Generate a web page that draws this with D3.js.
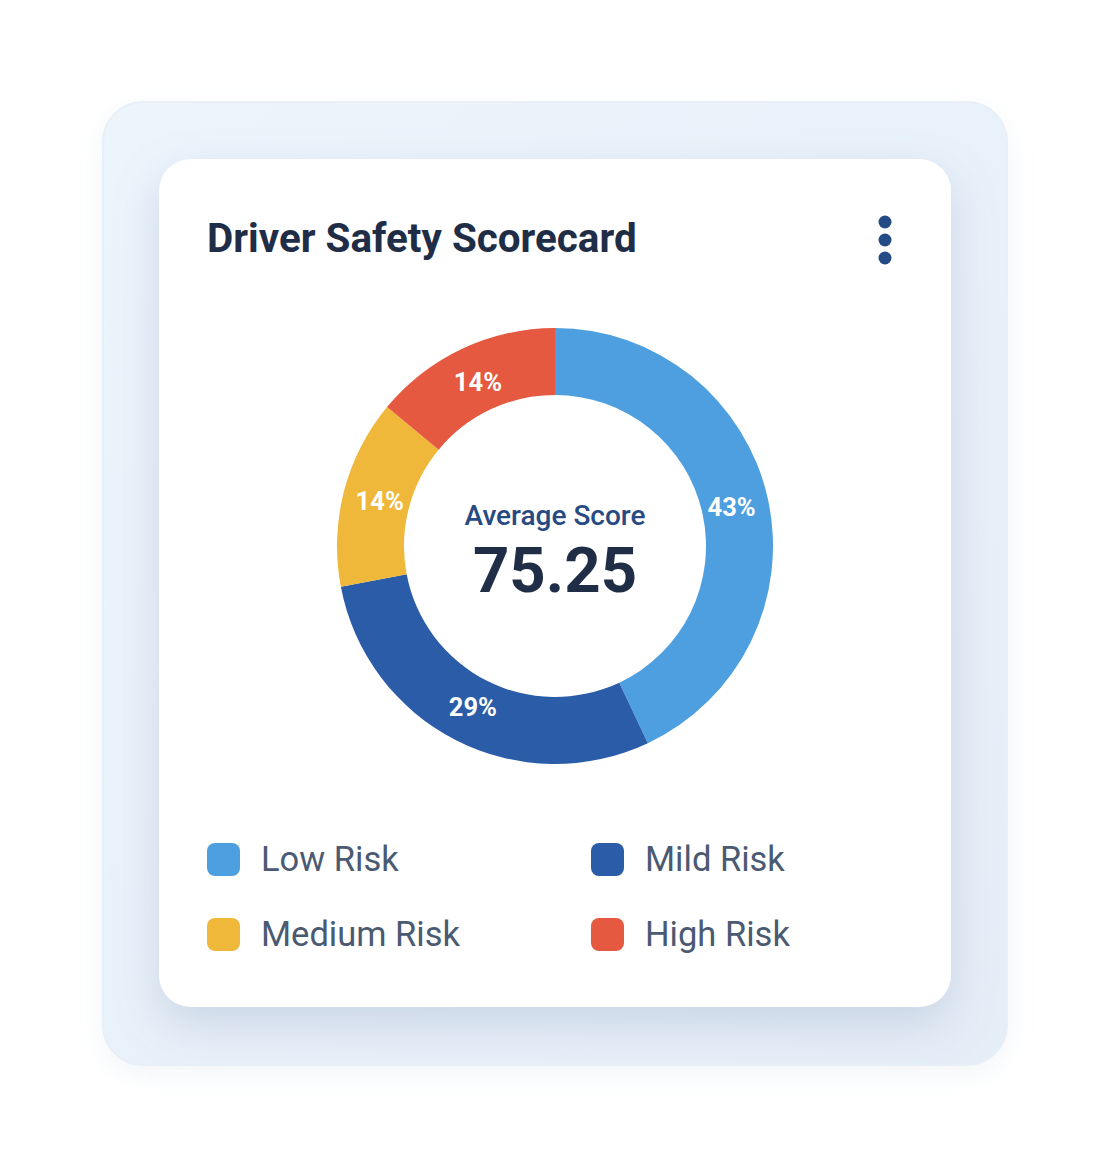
<!DOCTYPE html>
<html>
<head>
<meta charset="utf-8">
<script src="https://cdn.jsdelivr.net/npm/d3@7"></script>
<style>
  body { margin: 0; background: #fff; }
  svg { display: block; font-family: Roboto, "Noto Sans", sans-serif; }
</style>
</head>
<body>
<div class="chart"></div>
<script>
// chart data
var categories = ["Low Risk", "Mild Risk", "Medium Risk", "High Risk"];
var values = [43, 29, 14, 14];
var colors = ["#4d9fe0", "#2a5ca8", "#f0b83b", "#e45940"];
var avgLabel = "Average Score";
var avgScore = "75.25";

var svgWidth = 1110;
var svgHeight = 1167;

var svg = d3.select(".chart")
  .append("svg")
  .attr("width", svgWidth)
  .attr("height", svgHeight);

var defs = svg.append("defs");

var grad = defs.append("linearGradient")
  .attr("id", "panelGrad")
  .attr("x1", "0").attr("y1", "0")
  .attr("x2", "1").attr("y2", "1");
grad.append("stop").attr("offset", "0%").attr("stop-color", "#ecf4fc");
grad.append("stop").attr("offset", "100%").attr("stop-color", "#e5edf7");

var shadow = defs.append("filter")
  .attr("id", "cardShadow")
  .attr("x", "-20%").attr("y", "-20%")
  .attr("width", "140%").attr("height", "150%");
shadow.append("feDropShadow")
  .attr("dx", 0).attr("dy", 18)
  .attr("stdDeviation", 22)
  .attr("flood-color", "#8aa0bd")
  .attr("flood-opacity", 0.32);

var outerShadow = defs.append("filter")
  .attr("id", "outerShadow")
  .attr("x", "-10%").attr("y", "-10%")
  .attr("width", "120%").attr("height", "125%");
outerShadow.append("feDropShadow")
  .attr("dx", 0).attr("dy", 8)
  .attr("stdDeviation", 12)
  .attr("flood-color", "#c0cfe0")
  .attr("flood-opacity", 0.2);

// outer panel
svg.append("rect")
  .attr("x", 103).attr("y", 102)
  .attr("width", 904).attr("height", 963)
  .attr("rx", 40)
  .attr("fill", "url(#panelGrad)")
  .attr("stroke", "#e8eff7")
  .attr("stroke-width", 2)
  .attr("filter", "url(#outerShadow)");

// white card
svg.append("rect")
  .attr("x", 159).attr("y", 159)
  .attr("width", 792).attr("height", 848)
  .attr("rx", 32)
  .attr("fill", "#ffffff")
  .attr("filter", "url(#cardShadow)");

// title
svg.append("text")
  .attr("x", 207)
  .attr("y", 252)
  .attr("font-size", 40.4)
  .attr("font-weight", 700)
  .attr("fill", "#1f2d47")
  .text("Driver Safety Scorecard");

// kebab menu
svg.selectAll(".dot")
  .data([222, 240, 258])
  .enter()
  .append("circle")
  .attr("cx", 885)
  .attr("cy", d => d)
  .attr("r", 6.5)
  .attr("fill", "#234b85");

// donut
var cx = 555, cy = 546;
var outerR = 218, innerR = 151;

var pie = d3.pie().sort(null).value(d => d);
var arcs = pie(values);

var arc = d3.arc().innerRadius(innerR).outerRadius(outerR);
var labelArc = d3.arc().innerRadius(181).outerRadius(181);

var donut = svg.append("g")
  .attr("transform", `translate(${cx}, ${cy})`);

donut.selectAll("path")
  .data(arcs)
  .enter()
  .append("path")
  .attr("d", arc)
  .attr("fill", (d, i) => colors[i]);

var total = d3.sum(values);
donut.selectAll(".pct")
  .data(arcs)
  .enter()
  .append("text")
  .attr("class", "pct")
  .attr("transform", d => `translate(${labelArc.centroid(d)})`)
  .attr("text-anchor", "middle")
  .attr("dy", "0.36em")
  .attr("font-size", 25.5)
  .attr("font-weight", 700)
  .attr("fill", "#ffffff")
  .text(d => Math.round(d.data / total * 100) + "%");

// center text
donut.append("text")
  .attr("text-anchor", "middle")
  .attr("y", -21)
  .attr("font-size", 28)
  .attr("font-weight", 500)
  .attr("fill", "#274a82")
  .text(avgLabel);

donut.append("text")
  .attr("text-anchor", "middle")
  .attr("y", 46)
  .attr("font-size", 63.5)
  .attr("font-weight", 700)
  .attr("fill", "#1f2d47")
  .text(avgScore);

// legend
var legendX = d3.scalePoint().domain([0, 1]).range([207, 591]);
var legendY = d3.scalePoint().domain([0, 1]).range([859, 934]);

var legend = svg.selectAll(".legend")
  .data(categories)
  .enter()
  .append("g")
  .attr("class", "legend")
  .attr("transform", (d, i) => `translate(${legendX(i % 2)}, ${legendY(Math.floor(i / 2))})`);

legend.append("rect")
  .attr("x", 0)
  .attr("y", -16)
  .attr("width", 33)
  .attr("height", 33)
  .attr("rx", 8)
  .attr("fill", (d, i) => colors[i]);

legend.append("text")
  .attr("x", 54)
  .attr("dy", "0.36em")
  .attr("font-size", 34.5)
  .attr("fill", "#4a5a72")
  .text(d => d);
</script>
</body>
</html>
